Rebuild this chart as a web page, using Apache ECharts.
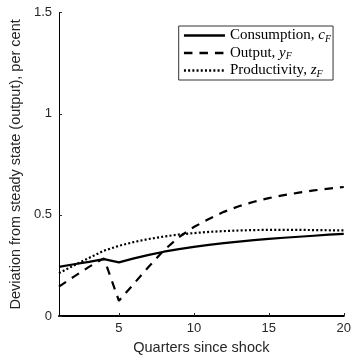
<!DOCTYPE html>
<html>
<head>
<meta charset="utf-8">
<script src="https://cdn.jsdelivr.net/npm/echarts@6/dist/echarts.min.js"></script>
<style>
  html, body { margin: 0; padding: 0; background: #fff; }
  #chart { width: 354px; height: 360px; }
</style>
</head>
<body>
<div id="chart"></div>
<script>
// Impulse responses, quarters 1..20
const quarters = [1, 2, 3, 4, 5, 6, 7, 8, 9, 10, 11, 12, 13, 14, 15, 16, 17, 18, 19, 20];
const consumption = [0.243, 0.256, 0.268, 0.281, 0.265, 0.285, 0.302, 0.318, 0.331, 0.342, 0.352, 0.360, 0.368, 0.375, 0.381, 0.387, 0.392, 0.397, 0.402, 0.406];
const output = [0.145, 0.195, 0.243, 0.285, 0.075, 0.160, 0.245, 0.325, 0.390, 0.440, 0.480, 0.515, 0.543, 0.565, 0.583, 0.598, 0.610, 0.621, 0.630, 0.638];
const productivity = [0.212, 0.250, 0.287, 0.323, 0.347, 0.366, 0.381, 0.393, 0.403, 0.410, 0.416, 0.420, 0.423, 0.425, 0.426, 0.426, 0.426, 0.425, 0.424, 0.423];
const xTicks = [5, 10, 15, 20];
const yTicks = [0, 0.5, 1, 1.5];

const seriesNames = ['Consumption', 'Output', 'Productivity'];
const mathSymbols = { Consumption: 'c', Output: 'y', Productivity: 'z' };
const lineTypes = { Consumption: 'solid', Output: [8.5, 7], Productivity: [2, 2.2] };

const pairs = (ys) => quarters.map((q, i) => [q, ys[i]]);

const axisColor = '#262626';
const sans = 'Liberation Sans, Arial, sans-serif';
const serif = 'Liberation Serif, Times New Roman, serif';

const chart = echarts.init(document.getElementById('chart'), null, { renderer: 'canvas' });

chart.setOption({
  animation: false,
  backgroundColor: '#fff',
  grid: { left: 50, right: 7.5, top: 12.7, bottom: 40, containLabel: false },
  xAxis: {
    type: 'value',
    min: 1,
    max: 20,
    name: 'Quarters since shock',
    nameLocation: 'middle',
    nameGap: 24,
    nameTextStyle: { fontFamily: sans, fontSize: 14.5, color: axisColor },
    axisLine: { show: true, lineStyle: { color: '#000', width: 2 } },
    axisTick: { show: true, inside: true, length: 3, customValues: xTicks, lineStyle: { color: axisColor } },
    axisLabel: { customValues: xTicks, fontFamily: sans, fontSize: 13, color: axisColor, margin: 6 },
    splitLine: { show: false }
  },
  yAxis: {
    type: 'value',
    min: 0,
    max: 1.5,
    interval: 0.5,
    name: 'Deviation from steady state (output), per cent',
    nameLocation: 'middle',
    nameGap: 28,
    nameTextStyle: { fontFamily: sans, fontSize: 14.5, color: axisColor },
    axisLine: { show: true, lineStyle: { color: '#000', width: 1 } },
    axisTick: { show: true, inside: true, length: 3, customValues: yTicks, lineStyle: { color: axisColor } },
    axisLabel: { customValues: yTicks, fontFamily: sans, fontSize: 13, color: axisColor, margin: 7 },
    splitLine: { show: false }
  },
  legend: {
    orient: 'vertical',
    left: 178.7,
    top: 26,
    padding: [1, 2, 1, 4],
    itemGap: 0.5,
    itemWidth: 41,
    itemHeight: 17,
    backgroundColor: '#fff',
    borderColor: '#333',
    borderWidth: 1,
    borderRadius: 0,
    // line samples only, no marker in the middle
    itemStyle: { opacity: 0 },
    data: seriesNames.map((name) => ({
      name: name,
      lineStyle: { color: '#000', width: 2.5, type: lineTypes[name] }
    })),
    formatter: (name) => name + ', {m|' + mathSymbols[name] + '}{s|F}',
    textStyle: {
      fontFamily: serif,
      fontSize: 15,
      color: '#000',
      lineHeight: 17,
      rich: {
        m: { fontFamily: serif, fontStyle: 'italic', fontSize: 15, color: '#000', lineHeight: 17 },
        s: { fontFamily: serif, fontStyle: 'italic', fontSize: 10, color: '#000', lineHeight: 10, padding: [7, 0, 0, 0], verticalAlign: 'bottom' }
      }
    }
  },
  series: [
    {
      name: 'Consumption',
      type: 'line',
      data: pairs(consumption),
      symbol: 'none',
      color: '#000',
      lineStyle: { color: '#000', width: 2.2, type: lineTypes.Consumption },
      z: 3
    },
    {
      name: 'Output',
      type: 'line',
      data: pairs(output),
      symbol: 'none',
      color: '#000',
      lineStyle: { color: '#000', width: 2.2, type: lineTypes.Output },
      z: 2
    },
    {
      name: 'Productivity',
      type: 'line',
      data: pairs(productivity),
      symbol: 'none',
      color: '#000',
      lineStyle: { color: '#000', width: 2.2, type: lineTypes.Productivity },
      z: 1
    }
  ]
});
</script>
</body>
</html>
